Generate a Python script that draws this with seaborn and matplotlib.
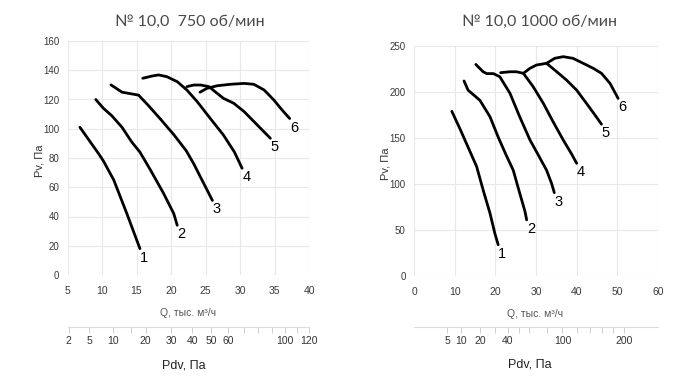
import numpy as np
import pandas as pd
import matplotlib
matplotlib.use("Agg")
import matplotlib.pyplot as plt
import seaborn as sns
from matplotlib.ticker import FixedLocator

# ---------------- data: 750 rpm ----------------
q750_1 = [6.8, 8.3, 9.5, 10.2, 11.7, 13.6, 15.5]
p750_1 = [101, 91, 83, 78, 65, 42, 18]
q750_2 = [9.1, 10.2, 11.4, 12.9, 14.3, 15.5, 17.0, 18.9, 20.4, 20.9]
p750_2 = [120, 114, 109, 101, 91, 84, 72, 56, 42, 34]
q750_3 = [11.3, 12.9, 14.1, 15.3, 16.7, 18.4, 20.4, 22.2, 23.3, 24.7, 26.0]
p750_3 = [130, 125, 124, 123, 116, 107, 96, 85, 76, 63, 51]
q750_4 = [15.9, 17.2, 18.2, 19.4, 20.9, 22.3, 23.8, 25.7, 27.6, 29.2, 30.3]
p750_4 = [134.5, 136, 136.8, 135.6, 132.2, 126.5, 118.5, 107, 95.7, 84, 73]
q750_5 = [22.3, 23.3, 24.3, 25.5, 26.4, 27.6, 29.1, 30.6, 32.5, 34.4]
p750_5 = [128.8, 129.9, 129.9, 128.8, 125.3, 120.8, 117.4, 111.7, 102.6, 93.5]
q750_6 = [24.2, 25.2, 26.7, 28.6, 30.6, 32.0, 33.5, 34.9, 36.1, 37.2]
p750_6 = [125, 127.6, 129.4, 130.4, 131, 130.4, 126.5, 119.7, 112.8, 107]

# ---------------- data: 1000 rpm ----------------
q1000_1 = [9.3, 11.3, 13.3, 15.4, 17.0, 18.7, 19.9, 20.7]
p1000_1 = [179, 160, 140, 119, 93.5, 68, 46, 34]
q1000_2 = [12.3, 13.3, 16.2, 18.7, 20.7, 22.6, 24.4, 26.0, 27.3, 27.7]
p1000_2 = [212, 202, 191, 173, 151, 132, 115, 90, 70, 61]
q1000_3 = [15.2, 17.0, 17.9, 19.5, 21.1, 23.6, 26.0, 28.5, 30.5, 32.6, 33.8, 34.5]
p1000_3 = [230, 222, 220, 220, 216.6, 198.6, 173, 148, 132, 115, 101, 90.6]
q1000_4 = [21.3, 23.6, 25.2, 26.9, 29.3, 31.8, 34.2, 36.7, 38.7, 40.0]
p1000_4 = [221, 222, 222, 220.3, 205.8, 187.7, 167.7, 147.8, 133, 122.5]
q1000_5 = [26.9, 28.5, 30.1, 32.6, 35.1, 37.5, 40.0, 42.4, 44.5, 46.1]
p1000_5 = [220.3, 225.7, 229.3, 231.2, 222, 213, 202, 187.7, 175, 165]
q1000_6 = [32.6, 34.6, 36.7, 39.1, 41.6, 44.1, 46.1, 48.2, 50.2]
p1000_6 = [231.2, 236.6, 238.4, 236.6, 231.2, 225.7, 220.3, 209.4, 193]

curve_labels = ["1", "2", "3", "4", "5", "6"]

titles = ["№ 10,0  750 об/мин", "№ 10,0 1000 об/мин"]
x_ticks_750 = [5, 10, 15, 20, 25, 30, 35, 40]
y_ticks_750 = [0, 20, 40, 60, 80, 100, 120, 140, 160]
x_ticks_1000 = [0, 10, 20, 30, 40, 50, 60]
y_ticks_1000 = [0, 50, 100, 150, 200, 250]
pdv_major_750 = [2, 5, 10, 20, 30, 40, 50, 60, 100, 120]
pdv_minor_750 = [15, 70, 80, 90, 110]
pdv_major_1000 = [5, 10, 20, 40, 100, 200]
pdv_minor_1000 = [30, 50, 60, 80, 120, 140, 160, 180]

K_PDV = 0.0751  # Pdv = K * Q^2 (outlet 1.0 m)

sns.set_theme(style="whitegrid")
plt.rcParams["font.family"] = ["Liberation Sans", "DejaVu Sans"]


def make_df(qs, ps):
    rows = []
    for lab, q, p in zip(curve_labels, qs, ps):
        for a, b in zip(q, p):
            rows.append((lab, a, b))
    return pd.DataFrame(rows, columns=["curve", "Q", "P"])


df750 = make_df([q750_1, q750_2, q750_3, q750_4, q750_5, q750_6],
                [p750_1, p750_2, p750_3, p750_4, p750_5, p750_6])
df1000 = make_df([q1000_1, q1000_2, q1000_3, q1000_4, q1000_5, q1000_6],
                 [p1000_1, p1000_2, p1000_3, p1000_4, p1000_5, p1000_6])


def fwd(q):
    q = np.asarray(q, dtype=float)
    return K_PDV * q * np.abs(q)


def inv(p):
    p = np.asarray(p, dtype=float)
    return np.sign(p) * np.sqrt(np.abs(p) / K_PDV)


fig = plt.figure(figsize=(7.0, 3.82), dpi=100)
ax1 = fig.add_axes([67.5 / 700, 1 - 275 / 382, 241.5 / 700, 234 / 382])
ax2 = fig.add_axes([414 / 700, 1 - 276 / 382, 244 / 700, 230 / 382])

configs = [
    (ax1, df750, (5, 40), (0, 160), x_ticks_750, y_ticks_750, pdv_major_750, pdv_minor_750, 190),
    (ax2, df1000, (0, 60), (0, 250), x_ticks_1000, y_ticks_1000, pdv_major_1000, pdv_minor_1000, 540),
]

for i, (ax, df, xl, yl, xt, yt, pmaj, pmin, tx) in enumerate(configs):
    sns.lineplot(data=df, x="Q", y="P", units="curve", estimator=None, sort=False,
                 color="black", lw=2.0, ax=ax, legend=False,
                 solid_joinstyle="round", solid_capstyle="round")
    for lab in curve_labels:
        sub = df[df["curve"] == lab]
        ax.annotate(lab, xy=(sub["Q"].iloc[-1], sub["P"].iloc[-1]), xytext=(3, -6.5),
                    textcoords="offset points", ha="center", va="center",
                    fontsize=10.5, color="black")
    ax.set_xlim(*xl)
    ax.set_ylim(*yl)
    ax.set_xticks(xt)
    ax.set_yticks(yt)
    for s in ax.spines.values():
        s.set_visible(False)
    ax.grid(True, color="#e8e8e8", lw=0.8)
    ax.tick_params(axis="x", labelsize=7.5, labelcolor="#3a3a3a", pad=8, length=0)
    ax.tick_params(axis="y", labelsize=7, labelcolor="#3a3a3a", pad=6, length=0)
    ax.set_xlabel("Q, тыс. м³/ч", fontsize=7.5, color="#555555")
    ax.xaxis.set_label_coords(0.497, -0.142)
    ax.set_ylabel("Pv, Па", fontsize=8, color="#333333")
    ax.yaxis.set_label_coords(-0.095 if i == 0 else -0.098, 0.49)

    sec = ax.secondary_xaxis(-0.222, functions=(fwd, inv))
    sec.grid(False)
    sec.yaxis.set_visible(False)
    sec.set_xticks(pmaj)
    sec.set_xticklabels([str(v) for v in pmaj])
    sec.xaxis.set_minor_locator(FixedLocator(pmin))
    sec.tick_params(axis="x", which="both", bottom=True, top=False, length=4, width=0.7,
                    color="#cfcfcf", labelsize=7.5, labelcolor="#333333", pad=2.5)
    for nm, s in sec.spines.items():
        s.set_visible(nm == "bottom")
    sec.spines["bottom"].set_color("#dddddd")
    sec.spines["bottom"].set_linewidth(0.8)
    ax.text(0.48 if i == 0 else 0.475, -0.385, "Pdv, Па", transform=ax.transAxes,
            ha="center", va="center", fontsize=9, color="#222222")

    fig.text(tx / 700, 1 - 22 / 382, titles[i], ha="center", va="center",
             fontsize=11.5, color="#4a4a4a",
             family=["Lato", "DejaVu Sans"])

fig.savefig("out.png", dpi=100, facecolor="white")
